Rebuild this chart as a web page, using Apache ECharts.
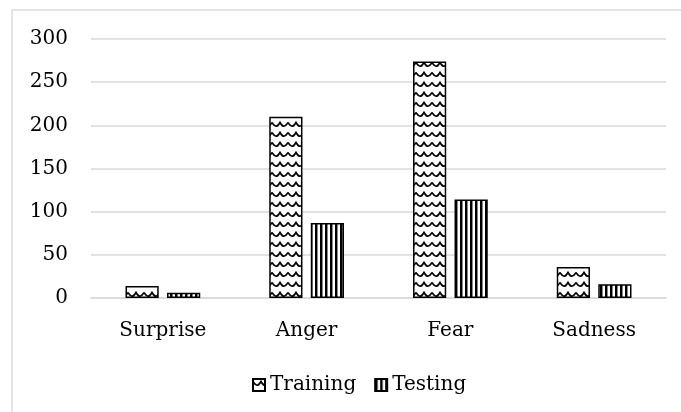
<!DOCTYPE html>
<html>
<head>
<meta charset="utf-8">
<script src="https://cdn.jsdelivr.net/npm/echarts@6/dist/echarts.min.js"></script>
<style>
    html, body { margin: 0; padding: 0; background: #fff; }
    #myChart { width: 681px; height: 412px; }
</style>
</head>
<body>
<div id="myChart"></div>
<script>
/* 数据 */
var categories = ['Surprise', 'Anger', 'Fear', 'Sadness'];
var trainingValues = [14, 210, 274, 36];
var testingValues = [6, 87, 114, 16];
var seriesNames = ['Training', 'Testing'];

var myChart;
var fontFamily = '"DejaVu Serif", serif';

// 波浪纹
function makeWavePattern() {
    var c = document.createElement('canvas');
    c.width = 16;
    c.height = 10;
    var ctx = c.getContext('2d');
    ctx.fillStyle = '#fff';
    ctx.fillRect(0, 0, 16, 10);
    ctx.strokeStyle = '#000';
    ctx.lineWidth = 1.6;
    ctx.beginPath();
    ctx.moveTo(0, 2.5);
    ctx.quadraticCurveTo(4, 10, 8, 2.5);
    ctx.quadraticCurveTo(12, 10, 16, 2.5);
    ctx.stroke();
    return c;
}

// 竖条纹
function makeStripePattern() {
    var c = document.createElement('canvas');
    c.width = 5;
    c.height = 4;
    var ctx = c.getContext('2d');
    ctx.fillStyle = '#fff';
    ctx.fillRect(0, 0, 5, 4);
    ctx.fillStyle = '#000';
    ctx.fillRect(0, 0, 2, 4);
    ctx.fillStyle = '#888';
    ctx.fillRect(2, 0, 1, 4);
    return c;
}

function generateBars() {
    var option = {
        animation: false,
        backgroundColor: '#fff',
        textStyle: { fontFamily: fontFamily },
        graphic: [{
            type: 'rect',
            shape: { x: 12, y: 10, width: 720, height: 480 },
            style: { fill: 'none', stroke: '#dcdcdc', lineWidth: 1.5 },
            silent: true
        }],
        legend: {
            data: seriesNames,
            icon: 'rect',
            left: 247,
            top: 370,
            itemWidth: 12,
            itemHeight: 12,
            itemGap: 18,
            textStyle: { fontFamily: fontFamily, fontSize: 20, color: '#000' }
        },
        grid: {
            left: 91,
            right: 15,
            top: 39,
            bottom: 114,
            containLabel: false
        },
        xAxis: {
            type: 'category',
            data: categories,
            axisLine: { show: true, lineStyle: { color: '#d9d9d9', width: 1.5 } },
            axisTick: { show: false },
            axisLabel: {
                margin: 23,
                fontFamily: fontFamily,
                fontSize: 20,
                color: '#000'
            }
        },
        yAxis: {
            type: 'value',
            min: 0,
            max: 300,
            interval: 50,
            axisLine: { show: false },
            axisTick: { show: false },
            splitLine: { lineStyle: { color: '#d9d9d9', width: 1.5 } },
            axisLabel: {
                margin: 23,
                fontFamily: fontFamily,
                fontSize: 20,
                color: '#000'
            }
        },
        series: [{
            name: seriesNames[0],
            type: 'bar',
            data: trainingValues,
            barGap: '25%',
            barCategoryGap: '48%',
            itemStyle: {
                color: { image: makeWavePattern(), repeat: 'repeat' },
                borderColor: '#000',
                borderWidth: 1.5
            }
        }, {
            name: seriesNames[1],
            type: 'bar',
            data: testingValues,
            barGap: '25%',
            barCategoryGap: '48%',
            itemStyle: {
                color: { image: makeStripePattern(), repeat: 'repeat' },
                borderColor: '#000',
                borderWidth: 1.5
            }
        }]
    };
    myChart.setOption(option);
}

myChart = echarts.init(document.getElementById('myChart'), null, { renderer: 'canvas' });
generateBars();
</script>
</body>
</html>
